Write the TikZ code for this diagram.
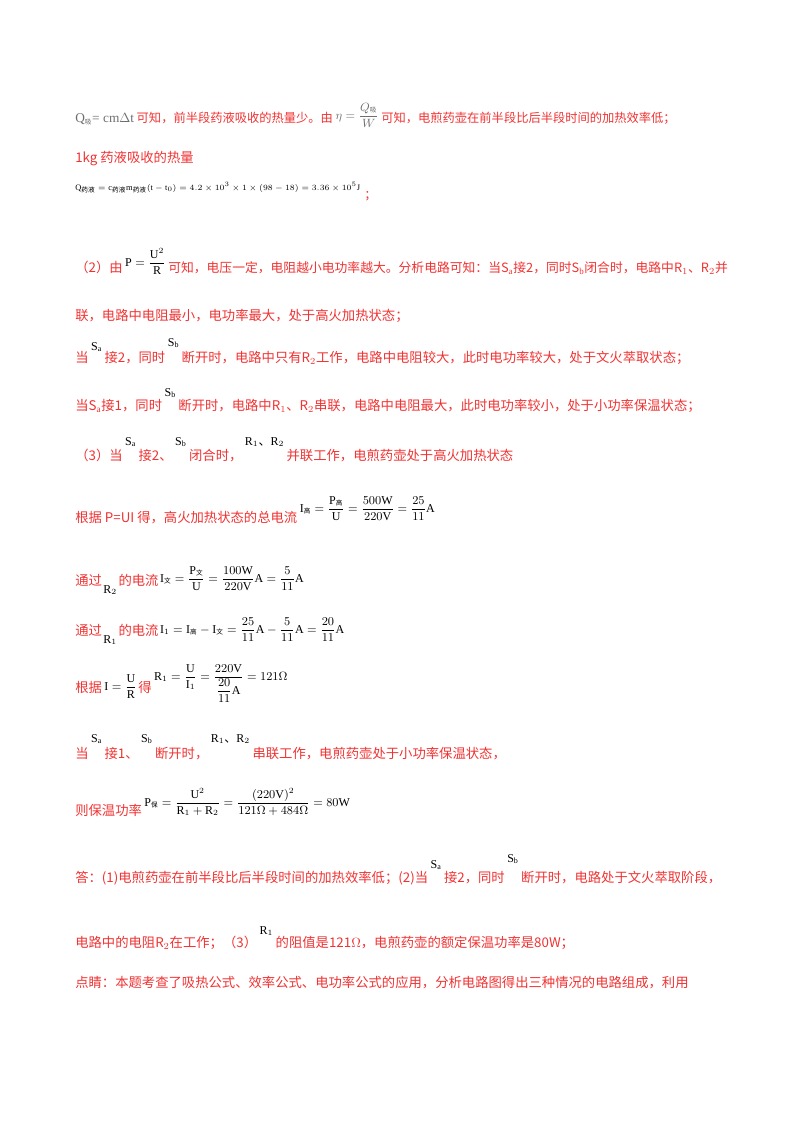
\documentclass[tikz,border=0pt]{standalone}
\usepackage{amsmath}
\usepackage{fontspec}
\usetikzlibrary{calc}
\setmainfont{Liberation Serif}
\newfontfamily\cjk{Noto Sans CJK SC}
\definecolor{rd}{RGB}{240,50,50}
\definecolor{gy}{RGB}{110,110,110}
\begin{document}
\begin{tikzpicture}[x=0.75pt,y=-0.75pt,
 tx/.style={anchor=base west,inner sep=0pt,text=rd,font=\cjk\fontsize{10}{12}\selectfont},
 fm/.style={anchor=base west,inner sep=0pt,text=black,font=\fontsize{9}{10}\selectfont},
 sm/.style={anchor=base west,inner sep=0pt,text=black,font=\fontsize{9}{10}\selectfont}]
\useasboundingbox (0,0) rectangle (800,1132);
\newcommand{\zh}[1]{\text{\cjk\tiny #1}}
\newcommand{\dn}{{\cjk 、}}
% line 1
\node[fm,text=gy,font=\fontsize{10}{12}\selectfont] (a1) at (75,122) {Q$_{\text{\cjk\tiny 吸}}$= cm$\Delta$t};
\node[tx,font=\cjk\fontsize{9.2}{12}\selectfont] (a2) at ($(a1.base east)+(2,0)$) {可知，前半段药液吸收的热量少。由};
\node[fm,text=gy] (a3) at ($(a2.base east)+(2,-3)$) {$\eta=\dfrac{Q_{\zh{吸}}}{W}$};
\node[tx,font=\cjk\fontsize{9.2}{12}\selectfont] (a4) at ($(a3.base east)+(2,3)$) {可知，电煎药壶在前半段比后半段时间的加热效率低；};
\node[tx] (b1) at (75,162) {1kg 药液吸收的热量};
\node[fm,font=\fontsize{6.3}{8}\selectfont] (c1) at (75,190) {$\mathrm{Q}_{\zh{药液}}=\mathrm{c}_{\zh{药液}}\mathrm{m}_{\zh{药液}}(\mathrm{t}-\mathrm{t}_0)=4.2\times10^3\times1\times(98-18)=3.36\times10^5\mathrm{J}$};
\node[tx] (c2) at ($(c1.base east)+(5,8)$) {;};
% (2)
\node[tx] (d1) at (75,272) {（2）由};
\node[fm] (d2) at ($(d1.base east)+(2,-6)$) {$\mathrm{P}=\dfrac{\mathrm{U}^2}{\mathrm{R}}$};
\node[tx,font=\cjk\fontsize{9.6}{12}\selectfont] (d3) at ($(d2.base east)+(2,6)$) {可知，电压一定，电阻越小电功率越大。分析电路可知：当S$_\mathrm{a}$接2，同时S$_\mathrm{b}$闭合时，电路中R$_1$、R$_2$并};
\node[tx] (e1) at (75,320) {联，电路中电阻最小，电功率最大，处于高火加热状态；};
\node[tx] (f1) at (75,362) {当};
\node[sm] (f2) at ($(f1.base east)+(2,-12)$) {S$_\mathrm{a}$};
\node[tx] (f3) at ($(f2.base east)+(2,12)$) {接2，同时};
\node[sm] (f4) at ($(f3.base east)+(2,-16)$) {S$_\mathrm{b}$};
\node[tx] (f5) at ($(f4.base east)+(2,16)$) {断开时，电路中只有R$_2$工作，电路中电阻较大，此时电功率较大，处于文火萃取状态；};
\node[tx] (g1) at (75,410) {当S$_\mathrm{a}$接1，同时};
\node[sm] (g2) at ($(g1.base east)+(2,-14)$) {S$_\mathrm{b}$};
\node[tx] (g3) at ($(g2.base east)+(2,14)$) {断开时，电路中R$_1$、R$_2$串联，电路中电阻最大，此时电功率较小，处于小功率保温状态；};
\node[tx] (h1) at (75,460) {（3）当};
\node[sm] (h2) at ($(h1.base east)+(2,-15)$) {S$_\mathrm{a}$};
\node[tx] (h3) at ($(h2.base east)+(2,15)$) {接2、};
\node[sm] (h4) at ($(h3.base east)+(2,-15)$) {S$_\mathrm{b}$};
\node[tx] (h5) at ($(h4.base east)+(2,15)$) {闭合时，};
\node[sm] (h6) at ($(h5.base east)+(2,-15)$) {R$_1$\dn R$_2$};
\node[tx] (h7) at ($(h6.base east)+(2,15)$) {并联工作，电煎药壶处于高火加热状态};
% current
\node[tx] (i1) at (75,522) {根据 P=UI 得，高火加热状态的总电流};
\node[fm] (i2) at ($(i1.base east)+(2,-10)$) {$\mathrm{I}_{\zh{高}}=\dfrac{\mathrm{P}_{\zh{高}}}{\mathrm{U}}=\dfrac{500\mathrm{W}}{220\mathrm{V}}=\dfrac{25}{11}\mathrm{A}$};
\node[tx] (j1) at (75,585) {通过};
\node[sm] (j2) at ($(j1.base east)+(1,8)$) {R$_2$};
\node[tx] (j3) at ($(j2.base east)+(1,-8)$) {的电流};
\node[fm] (j4) at ($(j3.base east)+(1,-3)$) {$\mathrm{I}_{\zh{文}}=\dfrac{\mathrm{P}_{\zh{文}}}{\mathrm{U}}=\dfrac{100\mathrm{W}}{220\mathrm{V}}\mathrm{A}=\dfrac{5}{11}\mathrm{A}$};
\node[tx] (k1) at (75,635) {通过};
\node[sm] (k2) at ($(k1.base east)+(1,8)$) {R$_1$};
\node[tx] (k3) at ($(k2.base east)+(1,-8)$) {的电流};
\node[fm] (k4) at ($(k3.base east)+(1,-2)$) {$\mathrm{I}_1=\mathrm{I}_{\zh{高}}-\mathrm{I}_{\zh{文}}=\dfrac{25}{11}\mathrm{A}-\dfrac{5}{11}\mathrm{A}=\dfrac{20}{11}\mathrm{A}$};
\node[tx] (l1) at (75,692) {根据};
\node[fm] (l2) at ($(l1.base east)+(2,-2)$) {$\mathrm{I}=\dfrac{\mathrm{U}}{\mathrm{R}}$};
\node[tx] (l3) at ($(l2.base east)+(1,2)$) {得};
\node[fm] (l4) at ($(l3.base east)+(2,-12)$) {$\mathrm{R}_1=\dfrac{\mathrm{U}}{\mathrm{I}_1}=\dfrac{220\mathrm{V}}{\dfrac{20}{11}\mathrm{A}}=121\Omega$};
% series
\node[tx] (m1) at (75,758) {当};
\node[sm] (m2) at ($(m1.base east)+(2,-16)$) {S$_\mathrm{a}$};
\node[tx] (m3) at ($(m2.base east)+(2,16)$) {接1、};
\node[sm] (m4) at ($(m3.base east)+(2,-16)$) {S$_\mathrm{b}$};
\node[tx] (m5) at ($(m4.base east)+(2,16)$) {断开时，};
\node[sm] (m6) at ($(m5.base east)+(2,-16)$) {R$_1$\dn R$_2$};
\node[tx] (m7) at ($(m6.base east)+(2,16)$) {串联工作，电煎药壶处于小功率保温状态，};
\node[tx] (n1) at (75,815) {则保温功率};
\node[fm] (n2) at ($(n1.base east)+(2,-9)$) {$\mathrm{P}_{\zh{保}}=\dfrac{\mathrm{U}^2}{\mathrm{R}_1+\mathrm{R}_2}=\dfrac{(220\mathrm{V})^2}{121\Omega+484\Omega}=80\mathrm{W}$};
% answer
\node[tx] (o1) at (75,882) {答：(1)电煎药壶在前半段比后半段时间的加热效率低；(2)当};
\node[sm] (o2) at ($(o1.base east)+(2,-14)$) {S$_\mathrm{a}$};
\node[tx] (o3) at ($(o2.base east)+(2,14)$) {接2，同时};
\node[sm] (o4) at ($(o3.base east)+(2,-20)$) {S$_\mathrm{b}$};
\node[tx] (o5) at ($(o4.base east)+(2,20)$) {断开时，电路处于文火萃取阶段，};
\node[tx] (p1) at (75,947) {电路中的电阻R$_2$在工作；（3）};
\node[sm] (p2) at ($(p1.base east)+(2,-13)$) {R$_1$};
\node[tx] (p3) at ($(p2.base east)+(2,13)$) {的阻值是121$\Omega$，电煎药壶的额定保温功率是80W；};
\node[tx] (q1) at (75,987) {点睛：本题考查了吸热公式、效率公式、电功率公式的应用，分析电路图得出三种情况的电路组成，利用};
\end{tikzpicture}
\end{document}
